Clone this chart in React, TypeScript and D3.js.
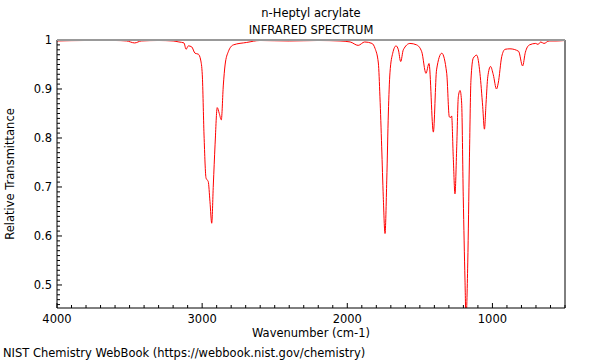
import React from "react";
import * as d3 from "d3";

const title1 = "n-Heptyl acrylate";
const title2 = "INFRARED SPECTRUM";
const xLabel = "Wavenumber (cm-1)";
const yLabel = "Relative Transmittance";
const footer = "NIST Chemistry WebBook (https://webbook.nist.gov/chemistry)";

const xTickValues = [4000, 3000, 2000, 1000];
const yTickValues = [0.5, 0.6, 0.7, 0.8, 0.9, 1];

const wavenumbers = [
  4000, 3800, 3600, 3520, 3465, 3420, 3300, 3200, 3160, 3125, 3111, 3095, 3072, 3049, 3026, 3010,
  2999, 2987, 2973, 2958, 2946, 2934, 2923, 2911, 2896, 2882, 2868, 2854, 2842, 2820, 2785, 2693,
  2601, 2400, 2200, 2050, 1980, 1925, 1880, 1830, 1809, 1786, 1775, 1763, 1752, 1740, 1728, 1717,
  1706, 1687, 1664, 1648, 1632, 1614, 1568, 1522, 1487, 1458, 1437, 1407, 1385, 1349, 1315, 1297,
  1287, 1281, 1270, 1258, 1246, 1235, 1223, 1212, 1201, 1189, 1182, 1170, 1159, 1148, 1132, 1108,
  1086, 1067, 1055, 1044, 1032, 1013, 994, 972, 960, 936, 913, 879, 820, 792, 773, 745,
  702, 686, 667, 645, 610, 562, 500,
];
const transmittance = [
  0.998, 0.999, 0.999, 0.998, 0.994, 0.998, 0.999, 0.998, 0.996, 0.994, 0.981, 0.988, 0.986, 0.973, 0.971, 0.959,
  0.929, 0.806, 0.718, 0.711, 0.67, 0.626, 0.704, 0.786, 0.862, 0.85, 0.837, 0.908, 0.949, 0.976, 0.99, 0.995,
  0.999, 0.998, 0.999, 0.998, 0.996, 0.989, 0.996, 0.993, 0.983, 0.953, 0.884, 0.782, 0.68, 0.605, 0.714, 0.851,
  0.933, 0.973, 0.988, 0.98, 0.956, 0.98, 0.993, 0.99, 0.976, 0.932, 0.952, 0.812, 0.939, 0.973, 0.932, 0.843,
  0.842, 0.845, 0.762, 0.686, 0.782, 0.884, 0.897, 0.871, 0.68, 0.51, 0.43, 0.545, 0.749, 0.918, 0.963, 0.969,
  0.932, 0.864, 0.818, 0.871, 0.925, 0.946, 0.929, 0.9, 0.912, 0.966, 0.981, 0.982, 0.977, 0.947, 0.975, 0.99,
  0.993, 0.991, 0.996, 0.993, 0.998, 0.998, 0.999,
];

export default function App() {
  const W = 600, H = 360;
  const left = 57, right = 565, top = 40, bottom = 308;
  const x = d3.scaleLinear().domain([4000, 500]).range([left, right]);
  const y = d3.scaleLinear().domain([0.453, 1]).range([bottom, top]);
  const pts: [number, number][] = wavenumbers.map((w, i) => [w, transmittance[i]]);
  const line = d3
    .line<[number, number]>()
    .x((d) => x(d[0]))
    .y((d) => y(d[1]))
    .curve(d3.curveMonotoneX);
  const sorted = [...pts].sort((a, b) => a[0] - b[0]);
  const path = line(sorted) || "";

  const xMinor = d3.range(500, 4001, 100);
  const yMinor = d3.range(46, 101, 1).map((v) => v / 100);
  const font = "DejaVu Sans, sans-serif";
  const fs = 11.5;

  return (
    <svg width={W} height={H} style={{ position: "absolute", left: 0, top: 0, background: "#fff" }}>
      <defs>
        <clipPath id="plot">
          <rect x={left} y={top} width={right - left} height={bottom - top} />
        </clipPath>
      </defs>
      <text x={311} y={17} textAnchor="middle" fontFamily={font} fontSize={fs}>{title1}</text>
      <text x={311} y={34} textAnchor="middle" fontFamily={font} fontSize={fs}>{title2}</text>

      <path d={path} fill="none" stroke="#ff0000" strokeWidth={1} clipPath="url(#plot)" />

      {xMinor.map((v) => {
        const major = v % 1000 === 0;
        return (
          <line key={"xm" + v} x1={x(v)} x2={x(v)} y1={bottom} y2={bottom - (major ? 5 : 3)} stroke="#000" strokeWidth={1} />
        );
      })}
      {yMinor.map((v) => {
        const major = Math.round(v * 100) % 10 === 0;
        return (
          <line key={"ym" + v} x1={left} x2={left + (major ? 5 : 3)} y1={y(v)} y2={y(v)} stroke="#000" strokeWidth={1} />
        );
      })}

      <line x1={left} x2={left} y1={top} y2={bottom} stroke="#000" strokeWidth={1} />
      <line x1={left} x2={right} y1={bottom} y2={bottom} stroke="#000" strokeWidth={1} />
      <line x1={right} x2={right} y1={top} y2={bottom} stroke="#000" strokeWidth={1} />
      <line x1={left} x2={right} y1={top} y2={top} stroke="#999" strokeWidth={2} />

      {xTickValues.map((v) => (
        <text key={"xl" + v} x={x(v)} y={323} textAnchor="middle" fontFamily={font} fontSize={fs}>{v}</text>
      ))}
      {yTickValues.map((v) => (
        <text key={"yl" + v} x={52} y={y(v) + 4} textAnchor="end" fontFamily={font} fontSize={fs}>{String(v)}</text>
      ))}
      <text x={311} y={337} textAnchor="middle" fontFamily={font} fontSize={fs}>{xLabel}</text>
      <text transform={`translate(14,${174}) rotate(-90)`} textAnchor="middle" fontFamily={font} fontSize={fs}>{yLabel}</text>
      <text x={3} y={357} fontFamily={font} fontSize={fs}>{footer}</text>
    </svg>
  );
}
